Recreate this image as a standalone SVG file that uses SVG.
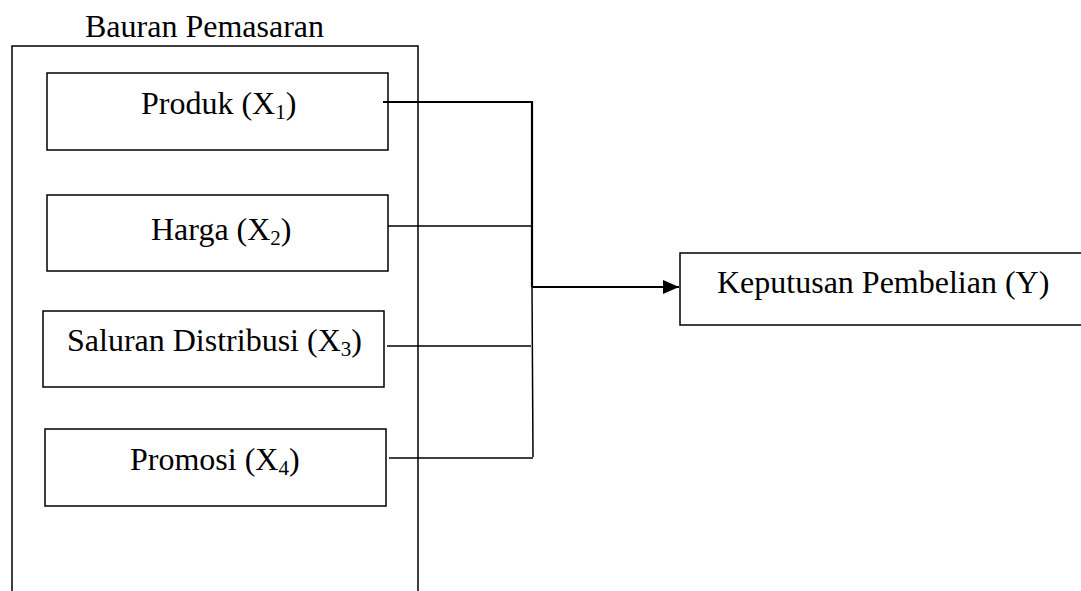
<svg xmlns="http://www.w3.org/2000/svg" width="1081" height="591" viewBox="0 0 1081 591">
<style>
  .box { fill: #fff; stroke: #000; stroke-width: 1.5; }
  .lbl { font-family: "Liberation Serif", "Times New Roman", serif; font-size: 32px; fill: #000; }
  .sub { font-size: 21px; }
  .ln { stroke: #000; stroke-width: 1.5; fill: none; }
  .thick { stroke-width: 2.2; }
</style>
<defs>
  <marker id="arr" markerWidth="16" markerHeight="14" refX="16" refY="7" orient="auto" markerUnits="userSpaceOnUse">
    <path d="M0,0 L16,7 L0,14 Z" fill="#000"/>
  </marker>
</defs>
<rect width="1081" height="591" fill="#fff"/>
<g id="bauran">
  <path class="ln" d="M12,600 L12,46 L418,46 L418,600"/>
  <text class="lbl" x="85" y="37">Bauran Pemasaran</text>
</g>
<g id="produk">
  <rect class="box" x="47" y="73" width="341" height="77"/>
  <text class="lbl" x="141" y="114">Produk (X<tspan class="sub" dy="5">1</tspan><tspan dy="-5">)</tspan></text>
</g>
<g id="harga">
  <rect class="box" x="47" y="195" width="341" height="76"/>
  <text class="lbl" x="151" y="240">Harga (X<tspan class="sub" dy="5">2</tspan><tspan dy="-5">)</tspan></text>
</g>
<g id="saluran">
  <rect class="box" x="43" y="311" width="341" height="76"/>
  <text class="lbl" x="67" y="351">Saluran Distribusi (X<tspan class="sub" dy="5">3</tspan><tspan dy="-5">)</tspan></text>
</g>
<g id="promosi">
  <rect class="box" x="45" y="429" width="341" height="77"/>
  <text class="lbl" x="130" y="470">Promosi (X<tspan class="sub" dy="5">4</tspan><tspan dy="-5">)</tspan></text>
</g>
<g id="keputusan">
  <rect class="box" x="680" y="253" width="420" height="72"/>
  <text class="lbl" x="717" y="293">Keputusan Pembelian (Y)</text>
</g>
<g id="connectors">
  <path class="ln thick" d="M383,102 L532,102 L532,287"/>
  <path class="ln" d="M532,287 L533,457"/>
  <path class="ln" d="M388,226 L532,226"/>
  <path class="ln" d="M387,346 L531,346"/>
  <path class="ln" d="M389,458 L533,458"/>
  <path class="ln thick" d="M532,287 L679,287" marker-end="url(#arr)"/>
</g>
</svg>
